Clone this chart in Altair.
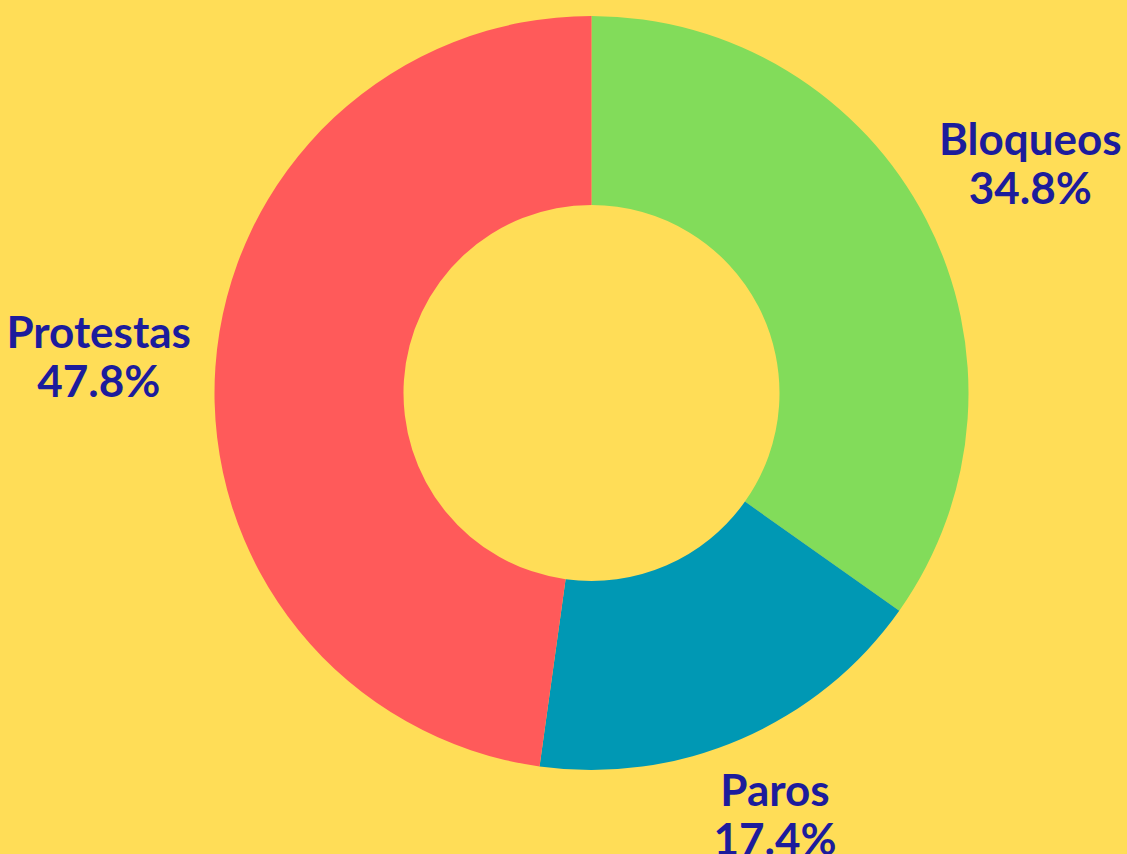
import altair as alt
import pandas as pd

categories = ["Bloqueos", "Paros", "Protestas"]
values = [34.8, 17.4, 47.8]
colors = ["#82DC5A", "#0098B4", "#FF5A5A"]
order = [0, 1, 2]

df = pd.DataFrame({"cat": categories, "val": values, "ord": order})
df["label"] = [f"{c}\n{v:.1f}%" for c, v in zip(categories, values)]

theta = alt.Theta("val:Q", stack=True)
ordenc = alt.Order("ord:Q")

base = alt.Chart(df)

arcs = base.mark_arc(outerRadius=377, innerRadius=188, stroke=None).encode(
    theta=theta,
    order=ordenc,
    color=alt.Color("cat:N", scale=alt.Scale(domain=categories, range=colors), legend=None),
)

txt_style = dict(font="Lato", fontSize=44, fontWeight="bold", color="#1C1C9C",
                 lineBreak="\n", lineHeight=49, align="center", baseline="middle", dy=-24)

labels_main = base.mark_text(radius=494, **txt_style).encode(
    theta=theta, order=ordenc, detail="cat:N", text="label:N",
    opacity=alt.condition(alt.datum.cat == "Paros", alt.value(0), alt.value(1)),
)
labels_paros = base.mark_text(radius=462, **txt_style).encode(
    theta=theta, order=ordenc, detail="cat:N", text="label:N",
    opacity=alt.condition(alt.datum.cat == "Paros", alt.value(1), alt.value(0)),
)

chart = alt.layer(arcs, labels_main, labels_paros).properties(
    width=1071, height=786,
    autosize=alt.AutoSizeParams(type="none"),
    padding={"left": 56, "top": 0, "right": 0, "bottom": 68},
    background="#FFDD57",
).configure_view(stroke=None)

chart.save("out.html", embed_options={"renderer": "svg", "actions": False})
